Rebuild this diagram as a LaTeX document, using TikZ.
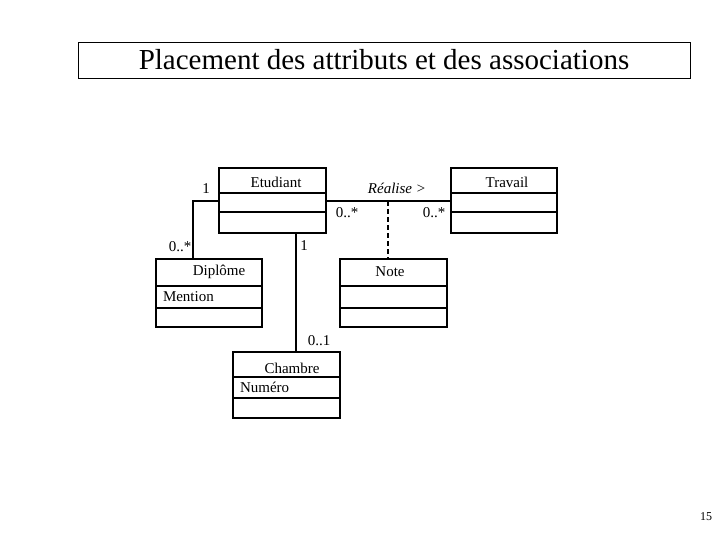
\documentclass[tikz,border=0pt]{standalone}
\usepackage{fontspec}
\setmainfont{Liberation Serif}
\begin{document}
\begin{tikzpicture}[x=1pt,y=-1pt,line width=2pt,
  lbl/.style={font=\fontsize{15}{17}\selectfont,inner sep=0pt},
  cls/.style={draw,line width=2pt}]
\useasboundingbox (0,0) rectangle (720,540);
\node[draw,line width=0.8pt,minimum width=612pt,minimum height=36pt,font=\fontsize{29}{32}\selectfont] (title) at (384,60) {Placement des attributs et des associations};
% classes
\newcommand{\umlclass}[7]{% name,x1,y1,x2,y2,d1,d2
  \draw[cls] (#2,#3) rectangle (#4,#5);
  \draw (#2,#6) -- (#4,#6);
  \draw (#2,#7) -- (#4,#7);
  \coordinate (#1) at ({(#2+#4)/2},{(#3+#5)/2});}
\umlclass{etu}{219}{168}{326}{233}{193}{212}
\umlclass{trav}{451}{168}{557}{233}{193}{212}
\umlclass{dipl}{156}{259}{262}{327}{286}{308}
\umlclass{note}{340}{259}{447}{327}{286}{308}
\umlclass{cham}{233}{352}{340}{418}{377}{398}
\node[lbl] (etun) at (276,182) {Etudiant};
\node[lbl] (travn) at (507,182) {Travail};
\node[lbl] (dipn) at (219,272) {Diplôme};
\node[lbl,anchor=west] (dipa) at (162,297) {Mention};
\node[lbl] (noten) at (390,272) {Note};
\node[lbl] (chamn) at (292,368) {Chambre};
\node[lbl,anchor=west] (chama) at (239,387) {Numéro};
% connectors
\coordinate (eR) at (326,201); \coordinate (tL) at (451,201);
\coordinate (eL) at (219,201); \coordinate (dT) at (193,259);
\coordinate (eB) at (296,233); \coordinate (cT) at (296,352);
\coordinate (mid) at (388,201); \coordinate (nT) at (388,259);
\draw (eR) -- (tL);
\draw (eL) -| (dT);
\draw (eB) -- (cT);
\draw[dashed,dash pattern=on 5pt off 3pt] (mid) -- (nT);
% labels
\node[lbl] (m1) at (206,189) {1};
\node[lbl] (m2) at (180,247) {0..*};
\node[lbl] (m3) at (304,246) {1};
\node[lbl] (m4) at (319,341) {0..1};
\node[lbl] (m5) at (347,213) {0..*};
\node[lbl] (m6) at (434,213) {0..*};
\node[lbl,font=\fontsize{15}{17}\selectfont\itshape] (ass) at (397,188) {Réalise >};
\node[font=\fontsize{12}{14}\selectfont] (pg) at (706,517) {15};
\end{tikzpicture}
\end{document}
